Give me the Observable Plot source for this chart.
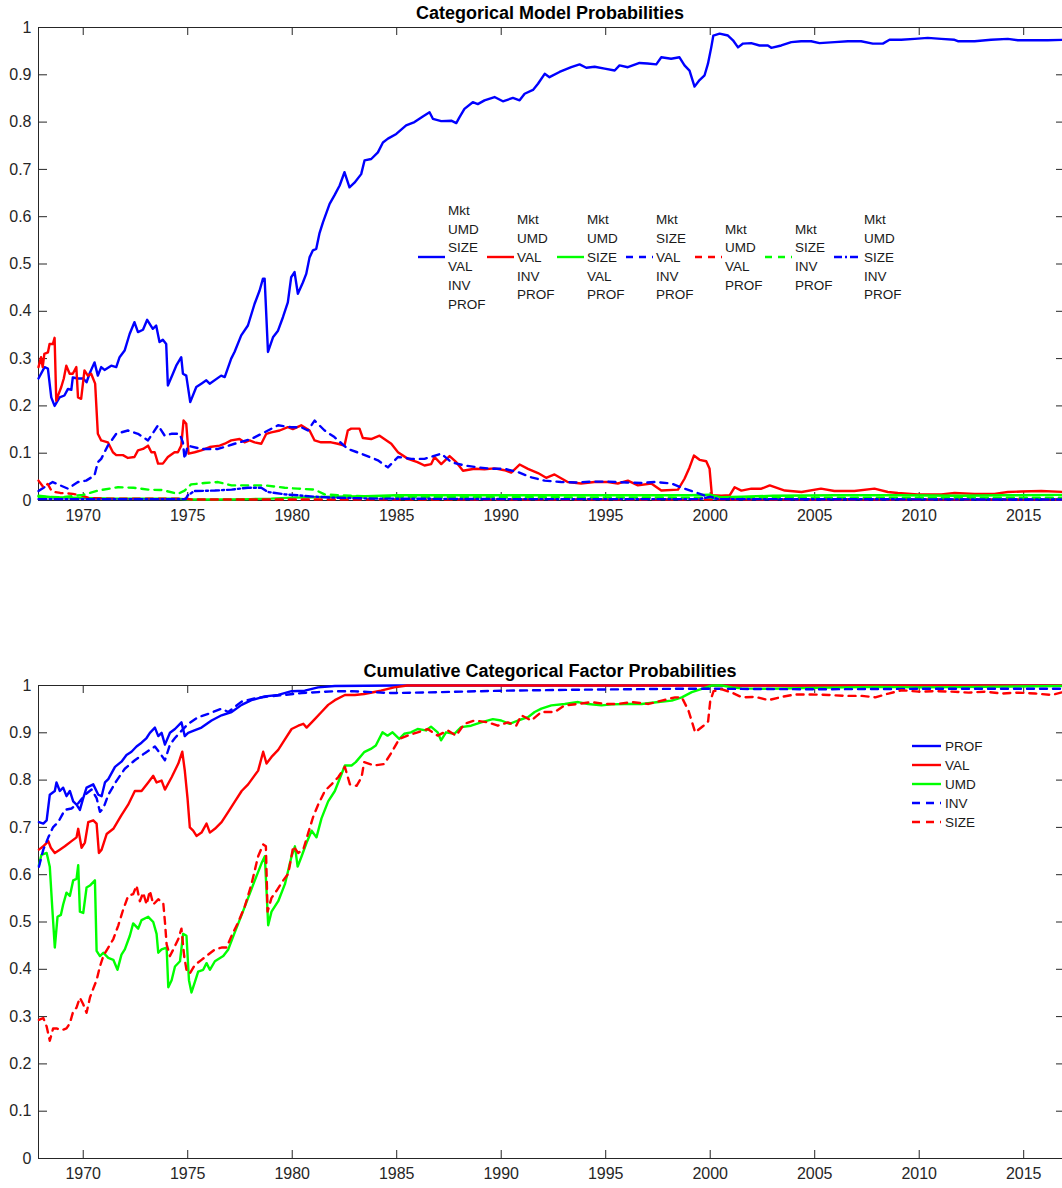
<!DOCTYPE html>
<html><head><meta charset="utf-8">
<script src="https://cdn.jsdelivr.net/npm/d3@7"></script>
<script src="https://cdn.jsdelivr.net/npm/@observablehq/plot@0.6"></script>
<style>html,body{margin:0;padding:0;background:#fff;overflow:hidden;} svg{display:block;}</style>
</head><body><div id="topDiv"></div><div id="botDiv"></div>
<script>
// ---------- DATA ----------
const xTicks = [1970, 1975, 1980, 1985, 1990, 1995, 2000, 2005, 2010, 2015];
const yTicks = [0, 0.1, 0.2, 0.3, 0.4, 0.5, 0.6, 0.7, 0.8, 0.9, 1];
const yTickLabels = ["0", "0.1", "0.2", "0.3", "0.4", "0.5", "0.6", "0.7", "0.8", "0.9", "1"];

const titleTop = "Categorical Model Probabilities";
const titleBottom = "Cumulative Categorical Factor Probabilities";

const modelLabels = [
  "Mkt UMD SIZE VAL INV PROF",
  "Mkt UMD VAL INV PROF",
  "Mkt UMD SIZE VAL PROF",
  "Mkt SIZE VAL INV PROF",
  "Mkt UMD VAL PROF",
  "Mkt SIZE INV PROF",
  "Mkt UMD SIZE INV PROF"
];
const factorLabels = ["PROF", "VAL", "UMD", "INV", "SIZE"];

// Top panel: model probabilities [year, probability]
const mAll = [[1967.86,0.258],[1968.15,0.282],[1968.31,0.279],[1968.47,0.218],[1968.63,0.200],[1968.87,0.218],[1969.10,0.222],[1969.27,0.236],[1969.43,0.234],[1969.50,0.260],[1969.75,0.258],[1970.00,0.258],[1970.16,0.250],[1970.30,0.268],[1970.54,0.292],[1970.70,0.264],[1970.86,0.282],[1971.02,0.276],[1971.34,0.285],[1971.58,0.282],[1971.74,0.303],[1971.98,0.317],[1972.22,0.352],[1972.45,0.377],[1972.62,0.356],[1972.86,0.361],[1973.06,0.382],[1973.33,0.363],[1973.49,0.370],[1973.65,0.335],[1973.81,0.340],[1973.97,0.331],[1974.05,0.243],[1974.29,0.268],[1974.45,0.285],[1974.69,0.303],[1974.77,0.268],[1974.93,0.264],[1975.12,0.208],[1975.41,0.240],[1975.65,0.247],[1975.89,0.254],[1976.05,0.247],[1976.60,0.264],[1976.77,0.261],[1977.08,0.300],[1977.24,0.314],[1977.56,0.349],[1977.88,0.370],[1978.20,0.416],[1978.44,0.444],[1978.60,0.469],[1978.68,0.469],[1978.84,0.314],[1979.08,0.345],[1979.32,0.359],[1979.56,0.388],[1979.79,0.419],[1979.95,0.472],[1980.11,0.483],[1980.27,0.437],[1980.51,0.461],[1980.67,0.479],[1980.83,0.514],[1980.99,0.529],[1981.15,0.532],[1981.30,0.564],[1981.47,0.588],[1981.79,0.627],[1982.02,0.645],[1982.27,0.666],[1982.50,0.694],[1982.74,0.662],[1982.98,0.672],[1983.30,0.690],[1983.46,0.719],[1983.78,0.722],[1984.10,0.736],[1984.34,0.757],[1984.58,0.765],[1984.98,0.775],[1985.45,0.793],[1985.85,0.800],[1986.25,0.812],[1986.57,0.821],[1986.73,0.807],[1987.13,0.802],[1987.61,0.803],[1987.85,0.798],[1988.00,0.810],[1988.24,0.828],[1988.64,0.842],[1988.88,0.838],[1989.20,0.846],[1989.68,0.853],[1990.08,0.844],[1990.56,0.851],[1990.88,0.846],[1991.12,0.860],[1991.52,0.868],[1991.76,0.881],[1992.08,0.902],[1992.31,0.895],[1992.79,0.906],[1993.35,0.916],[1993.75,0.922],[1994.07,0.915],[1994.47,0.917],[1994.95,0.913],[1995.43,0.909],[1995.66,0.920],[1996.06,0.916],[1996.62,0.925],[1997.00,0.924],[1997.42,0.922],[1997.66,0.937],[1998.13,0.934],[1998.53,0.937],[1998.77,0.920],[1999.01,0.909],[1999.25,0.875],[1999.49,0.889],[1999.73,0.899],[1999.89,0.923],[2000.05,0.958],[2000.15,0.983],[2000.45,0.987],[2000.85,0.983],[2001.09,0.973],[2001.33,0.958],[2001.57,0.966],[2001.96,0.967],[2002.36,0.962],[2002.76,0.962],[2002.92,0.957],[2003.40,0.962],[2003.88,0.969],[2004.35,0.971],[2004.83,0.971],[2005.23,0.967],[2005.95,0.969],[2006.59,0.971],[2007.22,0.971],[2007.78,0.966],[2008.26,0.966],[2008.58,0.974],[2009.14,0.974],[2009.78,0.976],[2010.41,0.978],[2011.05,0.976],[2011.69,0.974],[2011.85,0.971],[2012.65,0.971],[2013.44,0.974],[2014.24,0.976],[2014.72,0.973],[2015.36,0.973],[2016.15,0.973],[2016.96,0.974]];

const mNoSize = [[1967.86,0.282],[1967.98,0.303],[1968.06,0.282],[1968.14,0.310],[1968.31,0.313],[1968.39,0.331],[1968.55,0.331],[1968.63,0.344],[1968.71,0.211],[1968.82,0.225],[1968.95,0.240],[1969.07,0.258],[1969.19,0.285],[1969.35,0.268],[1969.50,0.268],[1969.67,0.282],[1969.75,0.218],[1969.90,0.215],[1970.06,0.275],[1970.22,0.264],[1970.38,0.268],[1970.57,0.247],[1970.70,0.141],[1970.86,0.127],[1971.18,0.123],[1971.42,0.102],[1971.58,0.096],[1971.90,0.096],[1972.14,0.090],[1972.45,0.092],[1972.62,0.106],[1972.86,0.109],[1973.10,0.116],[1973.26,0.102],[1973.42,0.102],[1973.58,0.078],[1973.81,0.078],[1974.05,0.092],[1974.37,0.102],[1974.53,0.102],[1974.69,0.116],[1974.80,0.169],[1974.93,0.162],[1975.04,0.099],[1975.33,0.102],[1975.65,0.106],[1976.05,0.113],[1976.53,0.116],[1976.77,0.120],[1977.08,0.127],[1977.48,0.130],[1977.72,0.123],[1977.96,0.127],[1978.20,0.123],[1978.52,0.120],[1978.76,0.141],[1979.00,0.144],[1979.40,0.148],[1979.79,0.155],[1980.03,0.151],[1980.43,0.159],[1980.83,0.148],[1981.07,0.127],[1981.38,0.123],[1981.86,0.123],[1982.18,0.120],[1982.50,0.116],[1982.66,0.148],[1982.82,0.152],[1983.22,0.152],[1983.38,0.132],[1983.78,0.130],[1984.18,0.137],[1984.74,0.120],[1985.06,0.102],[1985.54,0.088],[1985.99,0.081],[1986.33,0.074],[1986.65,0.077],[1986.81,0.092],[1987.13,0.077],[1987.53,0.094],[1987.85,0.081],[1988.17,0.063],[1988.72,0.067],[1989.20,0.066],[1989.68,0.068],[1990.16,0.064],[1990.48,0.059],[1990.88,0.076],[1991.28,0.067],[1991.76,0.058],[1992.15,0.048],[1992.55,0.055],[1993.18,0.039],[1993.82,0.036],[1994.46,0.039],[1995.10,0.039],[1995.58,0.036],[1996.06,0.042],[1996.54,0.032],[1997.18,0.036],[1997.66,0.021],[1998.46,0.023],[1998.77,0.046],[1999.01,0.070],[1999.22,0.095],[1999.49,0.086],[1999.81,0.083],[1999.97,0.067],[2000.08,0.011],[2000.53,0.010],[2000.93,0.011],[2001.17,0.028],[2001.49,0.021],[2001.97,0.025],[2002.45,0.025],[2002.85,0.032],[2003.57,0.021],[2004.37,0.018],[2005.30,0.025],[2005.94,0.020],[2006.90,0.020],[2007.86,0.025],[2008.50,0.018],[2008.98,0.016],[2009.93,0.013],[2011.05,0.013],[2011.69,0.016],[2012.65,0.014],[2013.60,0.014],[2014.24,0.018],[2014.88,0.019],[2015.84,0.020],[2016.96,0.018]];

const mNoInv = [[1967.86,0.010],[1968.5,0.007],[1969.5,0.006],[1970.5,0.005],[1971.5,0.004],[1972.5,0.004],[1973.5,0.004],[1974.5,0.004],[1975.0,0.002],[1976.0,0.002],[1977.0,0.002],[1978.0,0.003],[1979.0,0.004],[1980.0,0.006],[1981.0,0.007],[1982.0,0.008],[1983.5,0.009],[1985.0,0.011],[1987.0,0.011],[1990.0,0.011],[1993.0,0.011],[1996.0,0.011],[1999.0,0.011],[2000.0,0.012],[2000.5,0.007],[2001.5,0.008],[2003.0,0.010],[2006.0,0.011],[2009.0,0.011],[2012.0,0.010],[2014.0,0.011],[2016.96,0.012]];

const mNoUmd = [[1967.86,0.020],[1968.2,0.030],[1968.54,0.039],[1968.9,0.032],[1969.27,0.025],[1969.75,0.039],[1970.14,0.042],[1970.54,0.053],[1970.70,0.081],[1970.86,0.088],[1971.18,0.116],[1971.58,0.141],[1972.14,0.148],[1972.62,0.141],[1973.10,0.127],[1973.58,0.159],[1973.90,0.137],[1974.22,0.141],[1974.61,0.141],[1974.77,0.123],[1974.85,0.088],[1975.00,0.116],[1975.65,0.109],[1976.45,0.109],[1977.24,0.120],[1978.04,0.130],[1978.84,0.148],[1979.32,0.159],[1979.95,0.155],[1980.43,0.155],[1980.75,0.148],[1981.07,0.169],[1981.55,0.148],[1982.02,0.134],[1982.66,0.109],[1983.30,0.099],[1984.10,0.085],[1984.58,0.070],[1985.06,0.092],[1985.70,0.088],[1986.33,0.088],[1987.13,0.099],[1987.61,0.081],[1988.25,0.074],[1988.88,0.070],[1989.52,0.067],[1990.16,0.067],[1990.80,0.060],[1991.44,0.049],[1992.08,0.042],[1992.87,0.039],[1993.6,0.038],[1994.30,0.040],[1995.10,0.040],[1996.0,0.038],[1996.70,0.037],[1997.34,0.039],[1998.14,0.036],[1998.77,0.025],[1999.25,0.018],[1999.89,0.008],[2000.2,0.004],[2002,0.003],[2005,0.003],[2010,0.003],[2016.96,0.003]];

const mNoSizeInv = [[1967.86,0.042],[1968.1,0.028],[1968.3,0.035],[1968.5,0.019],[1968.9,0.016],[1969.5,0.014],[1969.9,0.011],[1970.3,0.005],[1971,0.004],[1973,0.004],[1974.8,0.004],[1975.2,0.002],[1980,0.002],[1990,0.002],[2000,0.002],[2016.96,0.002]];

const mNoUmdVal = [[1967.86,0.008],[1969,0.007],[1970.0,0.012],[1970.7,0.021],[1971.66,0.028],[1972.4,0.027],[1973.1,0.023],[1973.8,0.022],[1974.53,0.014],[1974.85,0.021],[1975.16,0.034],[1975.8,0.037],[1976.45,0.039],[1977.1,0.032],[1977.88,0.032],[1978.68,0.032],[1979.64,0.027],[1980.27,0.025],[1981.07,0.023],[1981.55,0.013],[1982.18,0.011],[1984,0.008],[1990,0.007],[2000,0.006],[2010,0.006],[2016.96,0.006]];

const mNoVal = [[1967.86,0.003],[1970,0.003],[1974.9,0.003],[1975.0,0.011],[1975.32,0.020],[1976.3,0.021],[1977.1,0.023],[1977.88,0.027],[1978.52,0.027],[1978.84,0.018],[1979.64,0.013],[1980.27,0.011],[1981.07,0.008],[1982,0.006],[1984,0.004],[1990,0.003],[1999.5,0.003],[2000,0.008],[2000.4,0.003],[2016.96,0.002]];

// Bottom panel: cumulative factor probabilities [year, probability]
const fProf = [[1967.88,0.711],[1968.09,0.708],[1968.25,0.715],[1968.40,0.769],[1968.64,0.777],[1968.72,0.795],[1968.88,0.777],[1969.04,0.784],[1969.20,0.766],[1969.36,0.777],[1969.52,0.755],[1969.68,0.748],[1969.84,0.737],[1970.00,0.762],[1970.16,0.784],[1970.48,0.791],[1970.72,0.769],[1970.88,0.766],[1971.04,0.795],[1971.20,0.802],[1971.52,0.828],[1971.83,0.839],[1972.07,0.853],[1972.31,0.860],[1972.55,0.871],[1972.79,0.879],[1973.03,0.889],[1973.19,0.900],[1973.43,0.911],[1973.59,0.893],[1973.75,0.900],[1973.91,0.875],[1974.15,0.900],[1974.39,0.908],[1974.70,0.922],[1974.86,0.893],[1975.02,0.900],[1975.26,0.904],[1975.66,0.911],[1976.14,0.926],[1976.62,0.937],[1977.10,0.944],[1977.58,0.959],[1978.05,0.969],[1978.69,0.977],[1979.33,0.980],[1979.97,0.988],[1980.60,0.989],[1981.24,0.996],[1982.04,0.999],[1985,1.0],[2000,1.0],[2016.96,1.0]];

const fVal = [[1967.88,0.653],[1968.09,0.660],[1968.33,0.671],[1968.45,0.657],[1968.64,0.646],[1968.88,0.653],[1969.12,0.660],[1969.44,0.671],[1969.68,0.679],[1969.76,0.697],[1969.92,0.657],[1970.08,0.668],[1970.24,0.711],[1970.48,0.715],[1970.64,0.708],[1970.75,0.646],[1970.88,0.653],[1971.12,0.686],[1971.44,0.697],[1971.83,0.726],[1972.15,0.748],[1972.47,0.777],[1972.79,0.777],[1973.11,0.795],[1973.35,0.809],[1973.51,0.795],[1973.75,0.799],[1973.91,0.780],[1974.23,0.806],[1974.55,0.835],[1974.74,0.860],[1974.86,0.820],[1974.99,0.762],[1975.10,0.700],[1975.26,0.693],[1975.42,0.682],[1975.66,0.689],[1975.90,0.708],[1976.06,0.689],[1976.30,0.697],[1976.62,0.711],[1976.94,0.733],[1977.26,0.755],[1977.58,0.777],[1977.89,0.791],[1978.37,0.820],[1978.61,0.860],[1978.77,0.835],[1979.01,0.849],[1979.33,0.864],[1979.65,0.886],[1979.97,0.908],[1980.29,0.915],[1980.53,0.919],[1980.69,0.911],[1981.08,0.929],[1981.40,0.944],[1981.72,0.959],[1982.04,0.969],[1982.52,0.980],[1983.00,0.980],[1983.44,0.982],[1984.24,0.989],[1984.88,0.996],[1985.50,1.0],[2000,1.0],[2016.96,1.0]];

const fUmd = [[1967.88,0.620],[1968.00,0.642],[1968.25,0.646],[1968.40,0.617],[1968.52,0.529],[1968.64,0.446],[1968.77,0.511],[1968.93,0.515],[1969.04,0.537],[1969.20,0.562],[1969.36,0.555],[1969.52,0.588],[1969.68,0.591],[1969.76,0.620],[1969.84,0.522],[1970.00,0.519],[1970.16,0.573],[1970.32,0.577],[1970.56,0.588],[1970.64,0.439],[1970.80,0.428],[1970.96,0.435],[1971.20,0.424],[1971.44,0.420],[1971.64,0.399],[1971.83,0.431],[1971.99,0.442],[1972.23,0.471],[1972.39,0.497],[1972.63,0.486],[1972.79,0.504],[1973.11,0.511],[1973.35,0.500],[1973.51,0.475],[1973.59,0.435],[1973.75,0.442],[1973.99,0.446],[1974.07,0.362],[1974.23,0.377],[1974.39,0.406],[1974.63,0.417],[1974.78,0.475],[1974.94,0.471],[1975.06,0.377],[1975.18,0.351],[1975.34,0.373],[1975.50,0.395],[1975.74,0.399],[1975.90,0.413],[1976.06,0.399],[1976.30,0.417],[1976.70,0.428],[1976.94,0.442],[1977.26,0.479],[1977.58,0.515],[1977.89,0.551],[1978.21,0.588],[1978.53,0.624],[1978.69,0.639],[1978.85,0.493],[1979.01,0.522],[1979.33,0.544],[1979.65,0.580],[1979.97,0.639],[1980.13,0.660],[1980.26,0.617],[1980.45,0.639],[1980.69,0.668],[1980.93,0.693],[1981.16,0.679],[1981.40,0.719],[1981.72,0.755],[1982.04,0.777],[1982.52,0.831],[1982.84,0.831],[1983.04,0.838],[1983.44,0.859],[1983.76,0.866],[1984.00,0.873],[1984.32,0.901],[1984.56,0.894],[1984.80,0.901],[1985.12,0.887],[1985.36,0.898],[1985.68,0.901],[1986.00,0.908],[1986.40,0.905],[1986.64,0.913],[1986.96,0.901],[1987.12,0.884],[1987.36,0.901],[1987.76,0.898],[1988.08,0.912],[1988.56,0.915],[1989.04,0.922],[1989.60,0.929],[1990.00,0.926],[1990.40,0.919],[1990.80,0.926],[1991.28,0.933],[1991.60,0.944],[1991.92,0.951],[1992.40,0.958],[1993.04,0.961],[1993.68,0.965],[1994.16,0.961],[1994.80,0.958],[1995.28,0.960],[1995.92,0.961],[1996.72,0.961],[1997.52,0.965],[1998.16,0.968],[1998.64,0.975],[1999.12,0.986],[1999.60,0.993],[2000.08,1.0],[2000.56,1.0],[2001.04,0.996],[2001.5,0.994],[2002.8,0.993],[2005,0.995],[2008,0.997],[2010,0.996],[2013,0.997],[2016.96,0.999]];

const fInv = [[1967.88,0.617],[1968.09,0.653],[1968.33,0.679],[1968.55,0.700],[1968.80,0.711],[1969.12,0.737],[1969.44,0.740],[1969.76,0.751],[1970.08,0.769],[1970.40,0.780],[1970.64,0.762],[1970.80,0.733],[1970.96,0.740],[1971.20,0.769],[1971.60,0.799],[1971.99,0.824],[1972.47,0.842],[1972.95,0.857],[1973.43,0.871],[1973.67,0.857],[1973.91,0.842],[1974.15,0.875],[1974.39,0.889],[1974.70,0.904],[1975.02,0.919],[1975.50,0.933],[1975.98,0.940],[1976.62,0.951],[1976.94,0.944],[1977.58,0.966],[1978.21,0.973],[1978.85,0.977],[1979.65,0.980],[1980.45,0.984],[1981.24,0.986],[1982.04,0.988],[1982.84,0.988],[1984.72,0.984],[1987.10,0.986],[1990.00,0.989],[1993.50,0.991],[1998.30,0.993],[2000.5,0.993],[2005,0.992],[2010,0.993],[2016.96,0.993]];

const fSize = [[1967.88,0.293],[1968.09,0.297],[1968.25,0.279],[1968.40,0.249],[1968.56,0.275],[1968.72,0.275],[1968.96,0.271],[1969.20,0.275],[1969.36,0.286],[1969.52,0.311],[1969.68,0.319],[1969.84,0.340],[1970.00,0.326],[1970.16,0.308],[1970.32,0.340],[1970.48,0.359],[1970.64,0.377],[1970.80,0.406],[1970.96,0.428],[1971.20,0.446],[1971.44,0.464],[1971.68,0.493],[1971.91,0.526],[1972.15,0.555],[1972.39,0.559],[1972.55,0.577],[1972.71,0.544],[1972.87,0.562],[1973.03,0.537],[1973.19,0.566],[1973.35,0.537],[1973.59,0.548],[1973.83,0.540],[1973.91,0.500],[1973.99,0.453],[1974.15,0.428],[1974.31,0.442],[1974.55,0.464],[1974.70,0.486],[1974.83,0.428],[1974.94,0.399],[1975.10,0.391],[1975.34,0.409],[1975.66,0.420],[1975.98,0.431],[1976.30,0.442],[1976.62,0.446],[1976.86,0.446],[1977.10,0.471],[1977.42,0.500],[1977.73,0.533],[1978.05,0.580],[1978.37,0.639],[1978.61,0.664],[1978.74,0.660],[1978.82,0.522],[1979.01,0.551],[1979.25,0.566],[1979.57,0.588],[1979.81,0.602],[1980.05,0.660],[1980.29,0.646],[1980.53,0.653],[1980.77,0.689],[1981.00,0.722],[1981.24,0.748],[1981.56,0.777],[1981.88,0.791],[1982.20,0.806],[1982.52,0.828],[1982.76,0.791],[1983.08,0.788],[1983.32,0.806],[1983.44,0.838],[1983.92,0.831],[1984.40,0.834],[1984.72,0.856],[1985.12,0.887],[1985.52,0.894],[1986.00,0.901],[1986.48,0.908],[1986.96,0.894],[1987.44,0.905],[1987.84,0.894],[1988.24,0.919],[1988.72,0.926],[1989.36,0.922],[1989.84,0.915],[1990.32,0.922],[1990.72,0.915],[1990.96,0.937],[1991.44,0.926],[1991.92,0.944],[1992.56,0.944],[1993.04,0.958],[1993.68,0.961],[1994.32,0.965],[1994.96,0.961],[1995.60,0.961],[1996.24,0.965],[1997.04,0.961],[1997.68,0.968],[1998.32,0.975],[1998.64,0.975],[1998.96,0.947],[1999.28,0.901],[1999.68,0.915],[1999.90,0.924],[2000.00,0.967],[2000.16,0.988],[2000.56,0.992],[2001.04,0.985],[2001.52,0.975],[2002.15,0.976],[2002.79,0.969],[2003.43,0.976],[2004.07,0.981],[2004.86,0.981],[2005.66,0.980],[2006.46,0.978],[2007.26,0.978],[2007.90,0.975],[2008.53,0.983],[2009.17,0.990],[2009.97,0.987],[2010.77,0.988],[2011.56,0.987],[2012.36,0.985],[2013.16,0.987],[2013.96,0.983],[2014.75,0.985],[2015.55,0.983],[2016.35,0.980],[2016.96,0.987]];

// ---------- STYLE / LAYOUT ----------
const BLUE = "#0000ff", RED = "#ff0000", GREEN = "#00ff00";
const DASH = "7,6", DASHDOT = "8,3,2,3";
const AX = "#262626";
const FONT = "'Liberation Sans', Arial, Helvetica, sans-serif";
const X0 = 1967.86, X1 = 2017;
const RANGE = [38, 1065];
const PXX = (RANGE[1] - RANGE[0]) / (X1 - X0);
const PLOT_H = 473;
const LW = 2.4;

const topSeries = [
  {data: mAll, stroke: BLUE, dash: null},
  {data: mNoSize, stroke: RED, dash: null},
  {data: mNoInv, stroke: GREEN, dash: null},
  {data: mNoUmd, stroke: BLUE, dash: DASH},
  {data: mNoSizeInv, stroke: RED, dash: DASH},
  {data: mNoUmdVal, stroke: GREEN, dash: DASH},
  {data: mNoVal, stroke: BLUE, dash: DASHDOT}
];
const botSeries = [
  {data: fProf, stroke: BLUE, dash: null},
  {data: fVal, stroke: RED, dash: null},
  {data: fUmd, stroke: GREEN, dash: null},
  {data: fInv, stroke: BLUE, dash: DASH},
  {data: fSize, stroke: RED, dash: DASH}
];

function frameMarks() {
  const tx = 9 / PXX, ty = 8 / PLOT_H;
  return [
    Plot.ruleX([X0], {stroke: AX, strokeWidth: 1}),
    Plot.ruleY([0, 1], {x1: X0, x2: X1, stroke: AX, strokeWidth: 1}),
    Plot.ruleY(yTicks, {x1: X0, x2: X0 + tx, stroke: AX, strokeWidth: 1}),
    Plot.ruleY(yTicks, {x1: X1 - tx, x2: X1, stroke: AX, strokeWidth: 1}),
    Plot.ruleX(xTicks, {y1: 0, y2: ty, stroke: AX, strokeWidth: 1}),
    Plot.ruleX(xTicks, {y1: 1 - ty, y2: 1, stroke: AX, strokeWidth: 1}),
    Plot.axisY(yTicks, {anchor: "left", tickSize: 0, tickPadding: 7, fontSize: 16, color: AX,
      tickFormat: d => yTickLabels[yTicks.indexOf(d)], label: null}),
    Plot.axisX(xTicks, {anchor: "bottom", tickSize: 0, tickPadding: 9, fontSize: 16, color: AX,
      tickFormat: d => String(d), label: null})
  ];
}
function lineMarks(series) {
  return series.map(s => Plot.line(s.data, {
    x: d => d[0], y: d => d[1], stroke: s.stroke, strokeWidth: LW,
    strokeDasharray: s.dash || undefined, strokeLinejoin: "round"
  }));
}
function makePlot(series, height, marginTop, marginBottom) {
  return Plot.plot({
    width: 1062, height, marginTop, marginBottom, marginLeft: 38, marginRight: 0,
    style: {fontFamily: FONT, fontSize: "16px", background: "white"},
    x: {domain: [X0, X1], range: RANGE, label: null},
    y: {domain: [0, 1], label: null},
    marks: [...frameMarks(), ...lineMarks(series)]
  });
}

// ---------- TOP ----------
const topChart = makePlot(topSeries, 540, 27, 40);
{
  const svg = d3.select(topChart);
  svg.append("text").attr("x", 550).attr("y", 18.5).attr("text-anchor", "middle")
    .attr("font-family", FONT).attr("font-size", 18).attr("font-weight", "bold").attr("fill", "#000")
    .text(titleTop);
  const g = svg.append("g").attr("font-family", FONT).attr("font-size", 13.5)
    .attr("fill", "#1a1a1a").attr("text-anchor", "start");
  const textX = [448, 517, 587, 656, 725, 795, 864];
  const cy = 257, step = 18.8;
  modelLabels.forEach((lab, i) => {
    const s = topSeries[i];
    g.append("line").attr("x1", textX[i] - 30).attr("x2", textX[i] - 3).attr("y1", cy).attr("y2", cy)
      .attr("stroke", s.stroke).attr("stroke-width", LW).attr("stroke-dasharray", s.dash);
    const parts = lab.split(" ");
    parts.forEach((p, k) => {
      g.append("text").attr("x", textX[i]).attr("y", cy + (k - (parts.length - 1) / 2) * step + 4.8)
        .attr("text-anchor", "start").text(p);
    });
  });
}
document.getElementById("topDiv").appendChild(topChart);

// ---------- BOTTOM ----------
const botChart = makePlot(botSeries, 648, 145, 30);
{
  const svg = d3.select(botChart);
  svg.append("text").attr("x", 550).attr("y", 137).attr("text-anchor", "middle")
    .attr("font-family", FONT).attr("font-size", 18).attr("font-weight", "bold").attr("fill", "#000")
    .text(titleBottom);
  const g = svg.append("g").attr("font-family", FONT).attr("font-size", 13.5)
    .attr("fill", "#1a1a1a").attr("text-anchor", "start");
  const y0 = 746 - 540, step = 19;
  factorLabels.forEach((lab, i) => {
    const s = botSeries[i];
    const y = y0 + i * step;
    g.append("line").attr("x1", 912).attr("x2", 941).attr("y1", y).attr("y2", y)
      .attr("stroke", s.stroke).attr("stroke-width", LW).attr("stroke-dasharray", s.dash ? "8,6" : null);
    g.append("text").attr("x", 945).attr("y", y + 4.8).attr("text-anchor", "start").text(lab);
  });
}
document.getElementById("botDiv").appendChild(botChart);
</script></body></html>
